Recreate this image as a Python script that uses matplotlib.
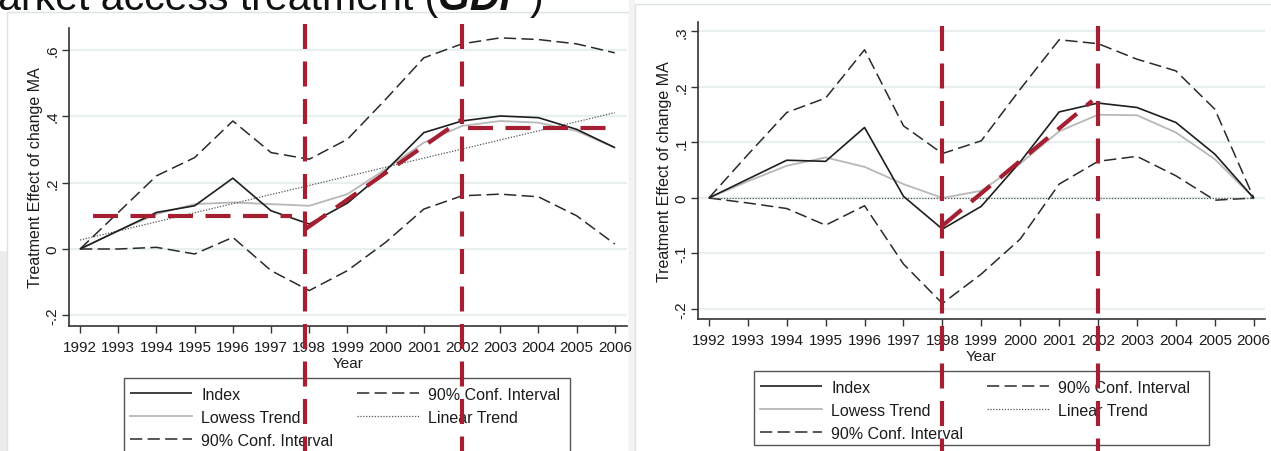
import matplotlib
matplotlib.use("Agg")
import matplotlib.pyplot as plt
from matplotlib.lines import Line2D
from matplotlib.patches import Rectangle
from matplotlib.transforms import blended_transform_factory

plt.rcParams["font.family"] = ["Liberation Sans", "DejaVu Sans"]

# ---------------- data ----------------
years = [1992, 1993, 1994, 1995, 1996, 1997, 1998, 1999,
         2000, 2001, 2002, 2003, 2004, 2005, 2006]
year_labels = [str(y) for y in years]

# left panel
left_index = [0.0, 0.055, 0.11, 0.13, 0.213, 0.115, 0.075, 0.138,
              0.235, 0.35, 0.385, 0.40, 0.395, 0.36, 0.305]
left_lowess = [0.0, 0.055, 0.105, 0.135, 0.14, 0.135, 0.13, 0.165,
               0.24, 0.32, 0.37, 0.385, 0.38, 0.355, 0.305]
left_upper = [0.0, 0.11, 0.22, 0.275, 0.385, 0.29, 0.27, 0.33,
              0.45, 0.575, 0.617, 0.635, 0.63, 0.617, 0.59]
left_lower = [0.0, 0.0, 0.005, -0.015, 0.035, -0.065, -0.125, -0.065,
              0.02, 0.12, 0.16, 0.165, 0.157, 0.10, 0.015]
left_linear_years = [1992, 2006]
left_linear = [0.027, 0.41]
left_yticks = [-0.2, 0.0, 0.2, 0.4, 0.6]
left_yticklabels = ["-.2", "0", ".2", ".4", ".6"]

# right panel
right_index = [0.0, 0.034, 0.068, 0.066, 0.127, 0.003, -0.056, -0.015,
               0.065, 0.155, 0.171, 0.163, 0.136, 0.079, 0.0]
right_lowess = [0.0, 0.03, 0.058, 0.073, 0.056, 0.025, 0.0, 0.013,
                0.062, 0.12, 0.15, 0.149, 0.118, 0.07, 0.0]
right_upper = [0.0, 0.078, 0.154, 0.18, 0.267, 0.13, 0.08, 0.103,
               0.196, 0.285, 0.278, 0.25, 0.229, 0.16, 0.0]
right_lower = [0.0, -0.009, -0.019, -0.049, -0.014, -0.119, -0.19, -0.137,
               -0.074, 0.025, 0.066, 0.075, 0.04, -0.004, 0.0]
right_linear_years = [1992, 2006]
right_linear = [0.0, 0.0]
right_yticks = [-0.2, -0.1, 0.0, 0.1, 0.2, 0.3]
right_yticklabels = ["-.2", "-.1", "0", ".1", ".2", ".3"]

# phase annotations (red)
left_breaks = [1997.9, 2002.0]
left_pre_x, left_pre_y = [1992.35, 1997.55], [0.10, 0.10]
left_rise_x, left_rise_y = [1997.9, 2002.0], [0.06, 0.39]
left_post_x, left_post_y = [2002.15, 2006.0], [0.365, 0.365]
right_breaks = [1998.0, 2002.0]
right_rise_x, right_rise_y = [1998.0, 2001.85], [-0.05, 0.175]

legend_labels = ["Index", "Lowess Trend", "90% Conf. Interval",
                 "90% Conf. Interval", "Linear Trend"]

# ---------------- layout helpers ----------------
W, H = 1271, 452
fig = plt.figure(figsize=(W / 100, H / 100), dpi=100, facecolor="white")


def fx(px):
    return px / W


def fy(py):
    return 1 - py / H


TXT = "#1c1c1c"
RED = "#a51e32"
IDX_STYLE = dict(color="#1e1e1e", lw=1.2, solid_capstyle="butt")
LOW_STYLE = dict(color="#b8b8b8", lw=1.3)
CI_STYLE = dict(color="#2a2a2a", lw=1.1, ls=(0, (8, 3.5)))
LIN_STYLE = dict(color="#555555", lw=0.9, ls=(0, (1, 1.3)))

# panel backgrounds
fig.patches.append(Rectangle((fx(0), fy(452)), fx(7), 200 / H, transform=fig.transFigure,
                             facecolor="#ececec", edgecolor="none", zorder=-5))
fig.patches.append(Rectangle((fx(7), fy(460)), fx(622), (460 - 13) / H,
                             transform=fig.transFigure, facecolor="white",
                             edgecolor="#dbe3e6", lw=1.0, zorder=-5))
fig.patches.append(Rectangle((fx(629), 0), fx(6), 1, transform=fig.transFigure,
                             facecolor="#f3f3f3", edgecolor="none", zorder=-5))
fig.patches.append(Rectangle((fx(635), fy(460)), fx(640), (460 - 5) / H,
                             transform=fig.transFigure, facecolor="white",
                             edgecolor="#dbe3e6", lw=1.0, zorder=-5))

# title (runs off the left/top edge)
yb = fy(10)
t1 = fig.text(fx(-36), yb, "Market access treatment (", fontsize=29.5,
              va="baseline", ha="left", color="#111111")
renderer = fig.canvas.get_renderer()
bb1 = t1.get_window_extent(renderer)
t2 = fig.text(bb1.x1 / W, yb, "GDP", fontsize=29.5, fontweight="bold",
              style="italic", va="baseline", ha="left", color="#111111")
bb2 = t2.get_window_extent(renderer)
fig.text(bb2.x1 / W + fx(3), yb, ")", fontsize=29.5, va="baseline", ha="left",
         color="#111111")


def make_panel(rect, xlim, ylim, idx, low, up, lo, lin_x, lin_y, yticks, yticklabels):
    ax = fig.add_axes(rect)
    ax.set_facecolor("none")
    ax.plot(years, idx, **IDX_STYLE, zorder=4)
    ax.plot(years, low, **LOW_STYLE, zorder=3)
    ax.plot(years, up, **CI_STYLE, zorder=3)
    ax.plot(years, lo, **CI_STYLE, zorder=3)
    ax.plot(lin_x, lin_y, **LIN_STYLE, zorder=3)
    ax.set_xlim(*xlim)
    ax.set_ylim(*ylim)
    ax.set_xticks(years, year_labels)
    ax.set_yticks(yticks, yticklabels)
    ax.yaxis.grid(True, color="#e7eff1", lw=1.6)
    ax.set_axisbelow(True)
    for s in ("top", "right"):
        ax.spines[s].set_visible(False)
    for s in ("left", "bottom"):
        ax.spines[s].set_color("#333333")
        ax.spines[s].set_linewidth(1.2)
    ax.tick_params(axis="both", colors="#333333", labelcolor=TXT, labelsize=11,
                   length=5, width=1.0, direction="out")
    ax.tick_params(axis="x", pad=5)
    ax.tick_params(axis="y", pad=2, labelrotation=90)
    for lab in ax.get_yticklabels():
        lab.set_va("center")
    ax.set_xlabel("Year", fontsize=11, color=TXT, labelpad=1.5)
    ax.set_ylabel("Treatment Effect of change MA", fontsize=11.5, color=TXT, labelpad=1.8)
    return ax


axL = make_panel([fx(69), fy(327), (627 - 69) / W, (327 - 29) / H],
                 (1991.71, 2006.32), (-0.2316, 0.6647),
                 left_index, left_lowess, left_upper, left_lower,
                 left_linear_years, left_linear, left_yticks, left_yticklabels)
axR = make_panel([fx(698), fy(320), (1265 - 698) / W, (320 - 23) / H],
                 (1991.72, 2006.29), (-0.218, 0.317),
                 right_index, right_lowess, right_upper, right_lower,
                 right_linear_years, right_linear, right_yticks, right_yticklabels)


# legends (boxed key below each panel)
def make_handles():
    return [Line2D([], [], **IDX_STYLE), Line2D([], [], **LOW_STYLE),
            Line2D([], [], **CI_STYLE), Line2D([], [], **CI_STYLE),
            Line2D([], [], **LIN_STYLE)]


def make_legend(x_left, y_top, box):
    leg = fig.legend(make_handles(), legend_labels, ncol=2, loc="upper left",
                     bbox_to_anchor=(fx(x_left), fy(y_top)), borderpad=0,
                     borderaxespad=0, handlelength=3.9, handletextpad=0.55,
                     columnspacing=1.5, labelspacing=0.5, fontsize=11.5,
                     frameon=False)
    for t in leg.get_texts():
        t.set_color(TXT)
    x0, y0, x1, y1 = box
    fig.patches.append(Rectangle((fx(x0), fy(y1)), (x1 - x0) / W, (y1 - y0) / H,
                                 transform=fig.transFigure, facecolor="white",
                                 edgecolor="#555555", lw=1.0, zorder=1))


make_legend(130, 388, (124, 379, 570, 470))
make_legend(760, 381, (754, 372, 1209, 446))

# red overlays
RED_DASH = dict(color=RED, lw=3.0, ls=(0, (6, 3)), solid_capstyle="butt",
                dash_capstyle="butt")
for ax, breaks, top in ((axL, left_breaks, 25), (axR, right_breaks, 27)):
    tr = blended_transform_factory(ax.transData, fig.transFigure)
    for xb in breaks:
        fig.add_artist(Line2D([xb, xb], [fy(top), 0], transform=tr, clip_on=False,
                              zorder=10, **RED_DASH))

axL.plot(left_pre_x, left_pre_y, zorder=9, clip_on=False, **RED_DASH)
axL.plot(left_rise_x, left_rise_y, zorder=9, clip_on=False, **RED_DASH)
axL.plot(left_post_x, left_post_y, zorder=9, clip_on=False, **RED_DASH)
axR.plot(right_rise_x, right_rise_y, zorder=9, clip_on=False, **RED_DASH)

fig.savefig("out.png", dpi=100, facecolor=fig.get_facecolor())
